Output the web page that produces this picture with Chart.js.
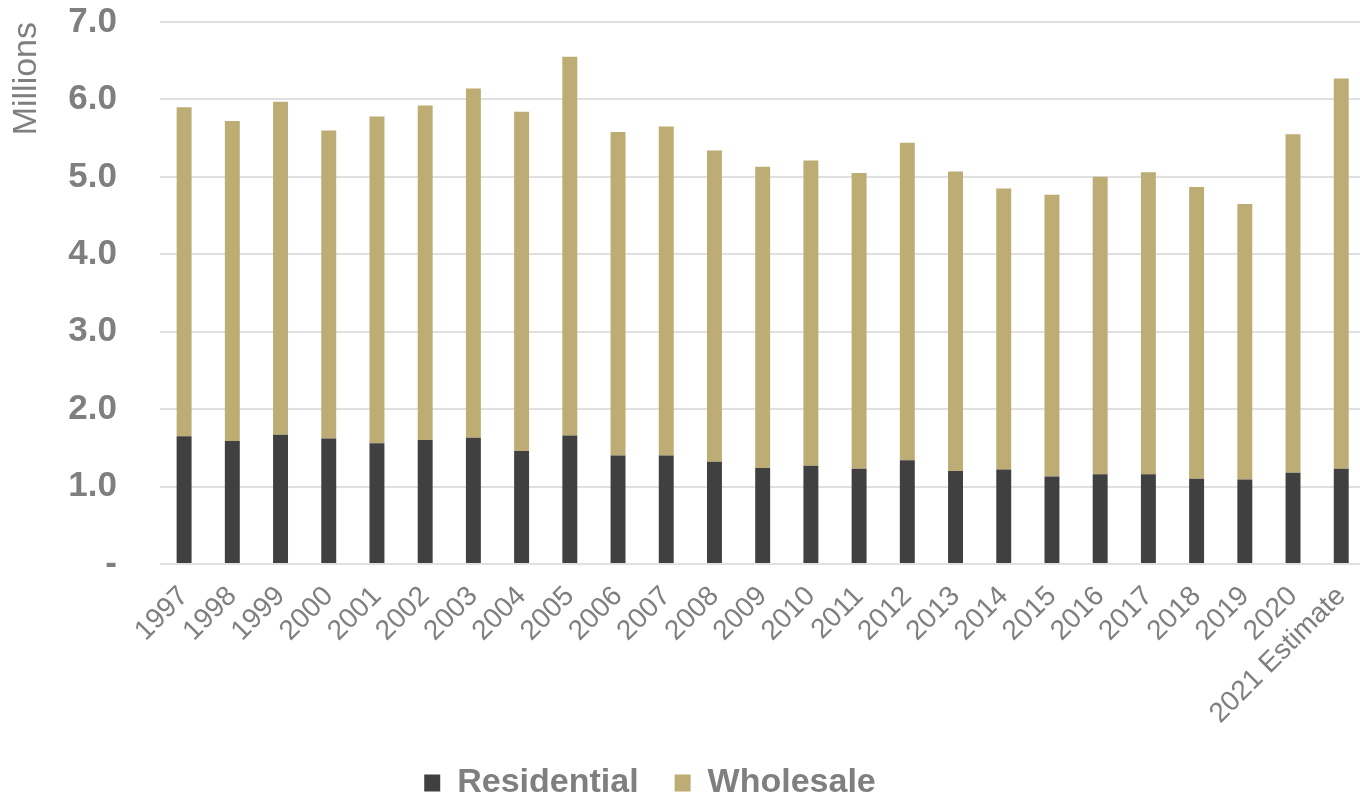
<!DOCTYPE html>
<html>
<head>
<meta charset="utf-8">
<title>Residential and Wholesale</title>
<script src="https://cdn.jsdelivr.net/npm/chart.js@4"></script>
<style>
  html, body { margin: 0; padding: 0; background: #fff; overflow: hidden; }
  #wrap { width: 1373px; height: 798px; }
</style>
</head>
<body>
<div id="wrap"><canvas id="salesChart"></canvas></div>
<script>
'use strict'

// yearly volumes, in millions
const years = ['1997', '1998', '1999', '2000', '2001', '2002', '2003', '2004', '2005', '2006',
    '2007', '2008', '2009', '2010', '2011', '2012', '2013', '2014', '2015', '2016',
    '2017', '2018', '2019', '2020', '2021 Estimate'];
const residential = [1.65, 1.59, 1.67, 1.62, 1.56, 1.60, 1.63, 1.46, 1.66, 1.40,
    1.40, 1.32, 1.24, 1.27, 1.23, 1.34, 1.20, 1.22, 1.13, 1.16,
    1.16, 1.10, 1.09, 1.18, 1.23];
const wholesale = [4.25, 4.13, 4.30, 3.98, 4.22, 4.32, 4.51, 4.38, 4.89, 4.18,
    4.25, 4.02, 3.89, 3.94, 3.82, 4.10, 3.87, 3.63, 3.64, 3.84,
    3.90, 3.77, 3.56, 4.37, 5.04];
const yTickLabels = ['-', '1.0', '2.0', '3.0', '4.0', '5.0', '6.0', '7.0'];

const grey = '#7f7f7f';
const fontFamily = '"Liberation Sans", Arial, sans-serif';

// legend row sits left of centre, over the bottom of the label band
const legendShift = {
    id: 'legendShift',
    afterLayout(chart) {
        const lg = chart.legend;
        const dx = 650 - (lg.left + lg.right) / 2;
        const dy = 730 - lg.top;
        lg.left += dx;
        lg.right += dx;
        lg.top += dy;
        lg.bottom += dy;
    }
};

const ctx = document.getElementById('salesChart').getContext('2d');
const salesChart = new Chart(ctx, {
    type: 'bar',
    data: {
        labels: years,
        datasets: [{
            label: 'Residential',
            data: residential,
            backgroundColor: '#404040',
            borderWidth: 0,
            barPercentage: 0.31,
            categoryPercentage: 1
        }, {
            label: 'Wholesale',
            data: wholesale,
            backgroundColor: '#bdac73',
            borderWidth: 0,
            barPercentage: 0.31,
            categoryPercentage: 1
        }]
    },
    options: {
        responsive: true,
        maintainAspectRatio: false,
        animation: false,
        layout: { padding: { top: 22, left: 0, right: 0, bottom: -26 } },
        plugins: {
            tooltip: { enabled: false },
            legend: {
                position: 'bottom',
                labels: {
                    color: grey,
                    font: { family: fontFamily, size: 34, weight: 'bold' },
                    boxWidth: 16,
                    boxHeight: 17,
                    padding: 36
                }
            }
        },
        scales: {
            x: {
                stacked: true,
                grid: { display: false },
                border: { display: false },
                ticks: {
                    color: grey,
                    font: { family: fontFamily, size: 28 },
                    minRotation: 45,
                    maxRotation: 45,
                    autoSkip: false,
                    padding: 8
                },
                afterFit(scale) { scale.height = 180; }
            },
            y: {
                stacked: true,
                min: 0,
                max: 7,
                grid: { color: '#e0e0e0', lineWidth: 2, drawTicks: false },
                border: { display: false },
                ticks: {
                    stepSize: 1,
                    color: grey,
                    font: { family: fontFamily, size: 35, weight: 'bold' },
                    padding: 43,
                    callback: (value) => yTickLabels[value]
                },
                title: {
                    display: true,
                    text: 'Millions',
                    align: 'end',
                    color: grey,
                    font: { family: fontFamily, size: 34 },
                    padding: { top: 6, bottom: 0 }
                },
                afterFit(scale) {
                    scale.width = 160;
                    scale.paddingTop = 0;
                    scale.paddingBottom = 0;
                }
            }
        }
    },
    plugins: [legendShift]
});
</script>
</body>
</html>
